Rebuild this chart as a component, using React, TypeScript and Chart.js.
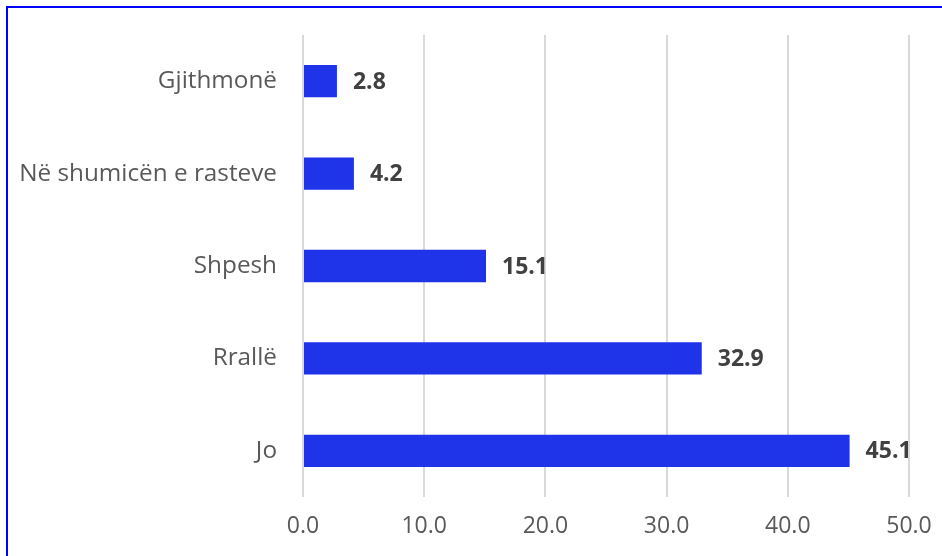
import React, { useEffect, useRef } from "react";
import { Chart, registerables } from "chart.js";

Chart.register(...registerables);

const categories = ["Gjithmonë", "Në shumicën e rasteve", "Shpesh", "Rrallë", "Jo"];
const values = [2.8, 4.2, 15.1, 32.9, 45.1];
const xTicks = [0, 10, 20, 30, 40, 50];

const FONT = "'Open Sans', 'Noto Sans', sans-serif";

const labelPlugin = {
  id: "valueLabels",
  afterDatasetsDraw(chart: any) {
    const ctx = chart.ctx;
    const meta = chart.getDatasetMeta(0);
    ctx.save();
    ctx.font = `bold 23px ${FONT}`;
    ctx.fillStyle = "#404040";
    ctx.textAlign = "left";
    ctx.textBaseline = "middle";
    meta.data.forEach((bar: any, i: number) => {
      ctx.fillText(values[i].toFixed(1), bar.x + 16, bar.y + 1);
    });
    ctx.restore();
  },
};

export default function App() {
  const ref = useRef<HTMLCanvasElement>(null);
  useEffect(() => {
    document.body.style.margin = "0";
    const chart = new Chart(ref.current!, {
      type: "bar",
      data: {
        labels: categories,
        datasets: [
          {
            data: values,
            backgroundColor: "#1F33E8",
            barPercentage: 0.35,
            categoryPercentage: 1,
          },
        ],
      },
      options: {
        indexAxis: "y",
        animation: false,
        responsive: false,
        maintainAspectRatio: false,
        layout: { padding: { left: 0, right: 33, top: 35, bottom: 0 } },
        plugins: { legend: { display: false }, tooltip: { enabled: false } },
        scales: {
          x: {
            min: 0,
            max: 50,
            afterBuildTicks: (axis: any) => {
              axis.ticks = xTicks.map((v) => ({ value: v }));
            },
            afterFit: (axis: any) => {
              axis.height = 59;
              axis.paddingRight = 0;
              axis.paddingLeft = 0;
            },
            grid: { color: "#D9D9D9", lineWidth: 2, drawTicks: false },
            border: { display: false },
            ticks: {
              color: "#595959",
              font: { family: FONT, size: 23 },
              padding: 16,
              callback: (v: any) => Number(v).toFixed(1),
            },
          },
          y: {
            afterFit: (axis: any) => {
              axis.width = 303;
              axis.paddingTop = 0;
              axis.paddingBottom = 0;
            },
            grid: { display: false, drawTicks: false },
            border: { display: false },
            ticks: {
              color: "#595959",
              font: { family: FONT, size: 24.3 },
              padding: 26,
            },
          },
        },
      },
      plugins: [labelPlugin],
    });
    return () => chart.destroy();
  }, []);
  return (
    <div style={{ position: "absolute", left: 0, top: 0, width: 942, height: 556, overflow: "hidden", background: "#fff" }}>
      <div
        style={{
          position: "absolute",
          left: 6,
          top: 6,
          width: 1000,
          height: 700,
          border: "2px solid #0000FF",
          boxSizing: "border-box",
        }}
      />
      <canvas ref={ref} width={942} height={556} style={{ position: "absolute", left: 0, top: 0 }} />
    </div>
  );
}
